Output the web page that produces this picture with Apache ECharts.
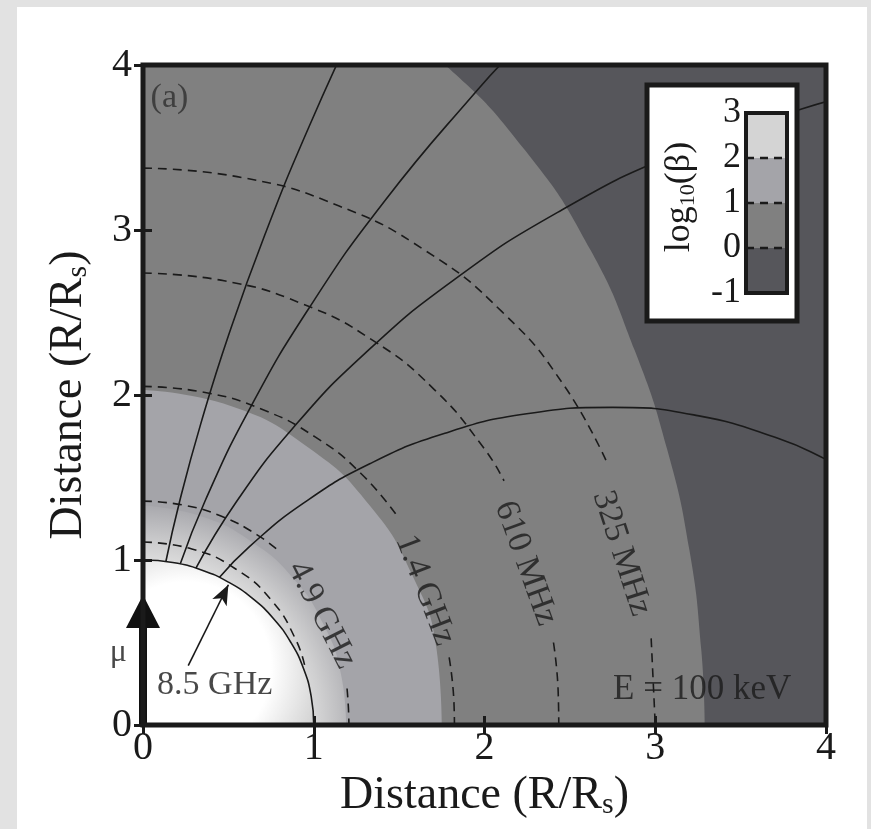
<!DOCTYPE html>
<html><head><meta charset="utf-8">
<script src="https://cdn.jsdelivr.net/npm/echarts@6/dist/echarts.min.js"></script>
<style>
html,body{margin:0;padding:0;background:#e2e2e2;width:871px;height:829px;overflow:hidden}
#c{position:absolute;left:17px;top:7px;width:850px;height:822px;background:#fff}
</style></head><body><div id="c"></div>
<script>
// ---------- data ----------
const axisTickValues = [0, 1, 2, 3, 4];
// stellar surface (R = 1 Rs)
const starEdge = [[0,1],[0.174,0.985],[0.342,0.940],[0.5,0.866],[0.643,0.766],[0.766,0.643],[0.866,0.5],[0.940,0.342],[0.985,0.174],[1,0]];
// light halo just outside the star (log beta 2..3)
const innerHalo = [[0,1.33],[0.339,1.265],[0.64,1.108],[0.884,0.884],[1.057,0.61],[1.159,0.311],[1.19,0]];
// log10(beta) = 1 contour
const betaOneContour = [[0,2.03],[0.518,1.932],[0.97,1.68],[1.329,1.329],[1.576,0.91],[1.719,0.461],[1.75,0]];
// log10(beta) = 0 contour
const betaZeroContour = [[0,4.5],[1.0,4.5],[1.39,4.28],[1.77,4.0],[2.24,3.48],[2.62,2.88],[2.88,2.27],[3.07,1.67],[3.20,1.06],[3.27,0.45],[3.29,0]];
// dipole field lines
const fieldLineA = [[0.134,0.991],[0.214,1.353],[0.339,1.828],[0.503,2.368],[0.712,2.967],[0.971,3.623],[1.283,4.331]];
const fieldLineB = [[0.218,0.976],[0.364,1.359],[0.620,1.907],[0.967,2.518],[1.413,3.173],[1.965,3.856],[2.173,4.087]];
const fieldLineC = [[0.310,0.951],[0.547,1.353],[0.876,1.797],[1.3,2.252],[1.819,2.696],[2.428,3.107],[3.115,3.460],[3.871,3.738],[4.268,3.843]];
const fieldLineD = [[0.447,0.894],[0.625,1.083],[0.944,1.348],[1.328,1.583],[1.768,1.768],[2.247,1.886],[2.749,1.925],[3.248,1.875],[3.722,1.736],[4.0,1.61],[4.2,1.50]];
// emission-frequency contours (segments, broken where labelled)
const contour8p5GHz = [[[0,1.109],[0.286,1.067],[0.545,0.944],[0.754,0.754],[0.895,0.517],[0.950,0.346]]];
const contour4p9GHz = [[[0,1.357],[0.235,1.333],[0.460,1.265],[0.666,1.154],[0.795,1.055]],[[1.195,0.221],[1.203,0.105],[1.206,0]]];
const contour1p4GHz = [[[0,2.052],[0.356,2.017],[0.696,1.913],[1.008,1.746],[1.278,1.523],[1.496,1.256]],[[1.793,0.41],[1.820,0.159],[1.824,0]]];
const contour610MHz = [[[0,2.739],[0.475,2.692],[0.930,2.554],[1.346,2.331],[1.706,2.033],[1.998,1.676],[2.114,1.480]],[[2.404,0.50],[2.431,0.213],[2.435,0]]];
const contour325MHz = [[[0,3.375],[0.585,3.317],[1.145,3.147],[1.658,2.872],[2.102,2.505],[2.461,2.065],[2.725,1.573]],[[2.976,0.525],[3.0,0]]];
// colour-bar levels
const legendTickLabels = ['3', '2', '1', '0', '-1'];
const bandColors = ['#d4d4d4', '#a4a4a9', '#808080', '#56565b'];

// ---------- style / layout ----------
const FONT = '"Liberation Serif", "Times New Roman", "DejaVu Serif", serif';
const INK = '#1a1a1a';
const labelItems = [
  {name: '(a)', value: [0.155, 3.80], rot: 0, size: 34, color: '#2e2e2e'},
  {name: '8.5 GHz', value: [0.42, 0.24], rot: 0, size: 34},
  {name: '4.9 GHz', value: [1.047, 0.667], rot: -63, size: 34},
  {name: '1.4 GHz', value: [1.652, 0.818], rot: -69, size: 34},
  {name: '610 MHz', value: [2.241, 0.98], rot: -70, size: 34},
  {name: '325 MHz', value: [2.803, 1.04], rot: -72, size: 34},
  {name: 'E = 100 keV', value: [3.275, 0.212], rot: 0, size: 35}
];

function lineSeries(data, dashed) {
  return {type: 'line', data: data, smooth: true, symbol: 'none', z: 5,
    lineStyle: {color: INK, width: 1.6, type: dashed ? [9, 6] : 'solid'}};
}
function areaSeries(id, data, color, z) {
  return {id: id, type: 'line', data: data, smooth: true, symbol: 'none', z: z,
    lineStyle: {width: 0}, areaStyle: {color: color, opacity: 1}};
}
const series = [
  areaSeries('mid', betaZeroContour, bandColors[2], 1),
  areaSeries('light', betaOneContour, bandColors[1], 2),
  areaSeries('ring', innerHalo, '#d0d0d0', 3),
  {id: 'star', type: 'line', data: starEdge, smooth: true, symbol: 'none', z: 4,
    lineStyle: {color: INK, width: 1.6}, areaStyle: {color: '#ffffff', opacity: 1}},
  lineSeries(fieldLineA), lineSeries(fieldLineB), lineSeries(fieldLineC), lineSeries(fieldLineD)
];
[contour8p5GHz, contour4p9GHz, contour1p4GHz, contour610MHz, contour325MHz].forEach(c =>
  c.forEach(seg => series.push(lineSeries(seg, true))));
// magnetic moment arrow
series.push({type: 'line', data: [[0, 0], [0, 0.62]], symbol: 'none', z: 8, clip: false,
  lineStyle: {color: '#111', width: 8}});
series.push({type: 'scatter', data: [[0, 0.688]], symbol: 'triangle', symbolSize: [34, 33], z: 9, clip: false,
  itemStyle: {color: '#111', opacity: 1}});
series.push({type: 'scatter', data: [[0, 0.44]], symbolSize: 0, z: 9, clip: false,
  label: {show: true, position: 'left', distance: 16, formatter: 'μ', fontFamily: FONT, fontSize: 32, color: INK}});
// text labels
series.push({type: 'scatter', symbolSize: 0, z: 10,
  data: labelItems.map(d => ({name: d.name, value: d.value,
    label: {rotate: d.rot, fontSize: d.size, color: d.color || INK}})),
  label: {show: true, position: 'inside', formatter: '{b}', fontFamily: FONT, color: INK}});
// 8.5 GHz pointer
series.push({type: 'line', data: [[0.265, 0.36]], symbol: 'none', lineStyle: {width: 0}, z: 10,
  markLine: {silent: true, symbol: ['none', 'arrow'], symbolSize: [12, 20], animation: false,
    lineStyle: {color: INK, width: 1.6, type: 'solid'}, label: {show: false},
    data: [[{coord: [0.265, 0.36]}, {coord: [0.50, 0.85]}]]}});

const tickStyle = {inside: true, length: 9, lineStyle: {width: 3, color: INK}};
const nameStyle = {fontFamily: FONT, fontSize: 46, color: INK,
  rich: {s: {fontFamily: FONT, fontSize: 30, color: INK, padding: [18, 0, 0, 0]}}};
const axisCommon = {type: 'value', min: 0, max: 4, interval: 1, z: 20,
  axisLine: {show: false}, splitLine: {show: false}, axisTick: tickStyle};

const option = {
  animation: false,
  textStyle: {fontFamily: FONT},
  grid: {left: 126, top: 58, right: 41, bottom: 104, show: true, backgroundColor: bandColors[3], borderWidth: 0},
  xAxis: [
    Object.assign({}, axisCommon, {position: 'bottom',
      axisLabel: {fontFamily: FONT, fontSize: 40, color: INK, margin: 3},
      name: 'Distance (R/R{s|s})', nameLocation: 'middle', nameGap: 38, nameTextStyle: nameStyle}),
    Object.assign({}, axisCommon, {position: 'top', axisLabel: {show: false}})
  ],
  yAxis: [
    Object.assign({}, axisCommon, {position: 'left',
      axisLabel: {fontFamily: FONT, fontSize: 40, color: INK, margin: 11},
      name: 'Distance (R/R{s|s})', nameLocation: 'middle', nameGap: 50, nameTextStyle: nameStyle}),
    Object.assign({}, axisCommon, {position: 'right', axisLabel: {show: false}})
  ],
  series: series
};

const chart = echarts.init(document.getElementById('c'));
chart.setOption(option);

const o = chart.convertToPixel({gridIndex: 0}, [0, 0]);
const tr = chart.convertToPixel({gridIndex: 0}, [4, 4]);
const unitY = (o[1] - tr[1]) / 4;
const unitX = (tr[0] - o[0]) / 4;
const sc = chart.convertToPixel({gridIndex: 0}, [0.25, 0.35]);

// colour bar legend
const cb = {x: 729, y: 106, w: 41, h: 180};
const bandH = cb.h / bandColors.length;
const legendEls = [
  {type: 'rect', shape: {x: 630, y: 78, width: 150, height: 236}, style: {fill: '#fff', stroke: INK, lineWidth: 5}, z: 60}
];
bandColors.forEach((col, i) => legendEls.push({type: 'rect', z: 61,
  shape: {x: cb.x, y: cb.y + i * bandH, width: cb.w, height: bandH}, style: {fill: col}}));
for (let i = 1; i < bandColors.length; i++) legendEls.push({type: 'line', z: 62,
  shape: {x1: cb.x, y1: cb.y + i * bandH, x2: cb.x + cb.w, y2: cb.y + i * bandH},
  style: {stroke: INK, lineWidth: 2.5, lineDash: [8, 6]}});
legendEls.push({type: 'rect', z: 63, shape: {x: cb.x, y: cb.y, width: cb.w, height: cb.h},
  style: {fill: 'none', stroke: INK, lineWidth: 4}});
legendTickLabels.forEach((t, i) => legendEls.push({type: 'text', z: 63,
  style: {text: t, x: 724, y: cb.y + i * bandH, align: 'right', verticalAlign: 'middle',
    fontFamily: FONT, fontSize: 36, fill: INK}}));
legendEls.push({type: 'text', z: 63, x: 663, y: 190, rotation: Math.PI / 2,
  style: {text: 'log{s|10}(β)', x: 0, y: 0, align: 'center', verticalAlign: 'middle',
    fontFamily: FONT, fontSize: 36, fill: INK,
    rich: {s: {fontFamily: FONT, fontSize: 22, fill: INK, padding: [16, 0, 0, 0]}}}});

chart.setOption({
  series: [
    {id: 'ring', areaStyle: {color: new echarts.graphic.RadialGradient(o[0], o[1], 1.36 * unitY,
      [{offset: 0, color: '#e4e4e4'}, {offset: 0.72, color: '#dedede'}, {offset: 0.8, color: '#cfcfd0'}, {offset: 1, color: bandColors[1]}], true)}},
    {id: 'star', areaStyle: {color: new echarts.graphic.RadialGradient(sc[0], sc[1], 1.0 * unitX,
      [{offset: 0, color: '#ffffff'}, {offset: 0.5, color: '#ffffff'}, {offset: 1, color: '#b8b8b8'}], true)}}
  ],
  graphic: [
    {type: 'rect', z: 50, shape: {x: o[0], y: tr[1], width: tr[0] - o[0], height: o[1] - tr[1]},
      style: {fill: 'none', stroke: INK, lineWidth: 5}},
    {type: 'group', children: legendEls}
  ]
});
</script></body></html>
